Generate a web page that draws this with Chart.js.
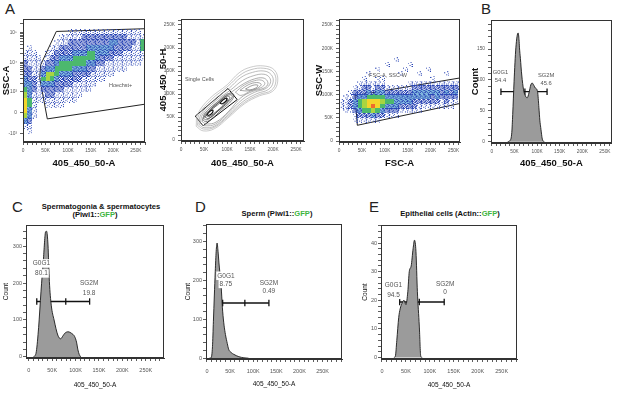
<!DOCTYPE html>
<html>
<head>
<meta charset="utf-8">
<title>Cell cycle FACS panels</title>
<script src="https://cdn.jsdelivr.net/npm/chart.js@4.4.1/dist/chart.umd.min.js"></script>
<style>
  body { margin: 0; background: #fff; }
  #page { position: relative; width: 617px; height: 395px; overflow: hidden; font-family: "Liberation Sans", Arial, sans-serif; }
  #page canvas { position: absolute; }
  .lt { position: absolute; font-size: 15px; line-height: 1; color: #222; }
  .ttl { position: absolute; transform: translate(-50%, -50%); font-size: 7.6px; font-weight: bold; color: #111; white-space: nowrap; line-height: 1; }
  .gfp { color: #3fb53f; }
</style>
</head>
<body>
<div id="page">
  <div class="lt" style="left:5px;top:1px">A</div>
  <div class="lt" style="left:481px;top:1px">B</div>
  <div class="lt" style="left:12px;top:199px">C</div>
  <div class="lt" style="left:195px;top:199px">D</div>
  <div class="lt" style="left:369px;top:199px">E</div>
  <div class="ttl" style="left:101px;top:207px">Spermatogonia &amp; spermatocytes</div>
  <div class="ttl" style="left:95px;top:215px">(Piwi1::<span class="gfp">GFP</span>)</div>
  <div class="ttl" style="left:277px;top:214px">Sperm (Piwi1::<span class="gfp">GFP</span>)</div>
  <div class="ttl" style="left:450px;top:214px">Epithelial cells (Actin::<span class="gfp">GFP</span>)</div>
  <canvas id="a1" width="150" height="162" style="left:0;top:10px"></canvas>
  <canvas id="a2" width="152" height="162" style="left:155px;top:10px"></canvas>
  <canvas id="a3" width="153" height="162" style="left:312px;top:10px"></canvas>
  <canvas id="b" width="147" height="162" style="left:470px;top:10px"></canvas>
  <canvas id="c" width="170" height="178" style="left:0;top:215px"></canvas>
  <canvas id="d" width="170" height="178" style="left:180px;top:214px"></canvas>
  <canvas id="e" width="170" height="178" style="left:355px;top:215px"></canvas>
</div>
<script>
const FONT = '"Liberation Sans", Arial, sans-serif';

// ---- A1: 405_450_50-A vs SSC-A (biexponential y), x in K ----
const A1_W = 415;
const biex = v => Math.asinh(v / A1_W);
const a1X = [5, 15, 25, 35, 45, 55, 65, 75, 85, 95, 105, 115, 125, 135, 145, 155, 165, 175, 185, 195, 205, 215, 225, 235, 245, 255, 265];
const a1U = [7.0, 6.6, 6.2, 5.8, 5.4, 5.0, 4.6, 4.2, 3.8, 3.4, 3.0, 2.6, 2.2, 1.8, 1.4, 1.0, 0.6, 0.2, -0.2, -0.6, -1.0, -1.4, -1.8];
// density level per cell, one string per x bin, top row first
const a1Cols = [
  '00000011222334566653100', '00000111122233344332110', '00000011111222111110000',
  '00000001111111110000000', '00000000123432110000000', '00000011235532211000000',
  '00000112235432211000000', '00001122344322111000000', '00011223443222111000000',
  '00011223443221110000000', '00112223443221110000000', '00112234432211110000000',
  '00112234432211100000000', '00122234432111000000000', '00122344322111000000000',
  '00122344321110000000000', '00122333211100000000000', '00122332211100000000000',
  '00122332111000000000000', '00123322111000000000000', '00123221110000000000000',
  '00122221110000000000000', '00122211110000000000000', '00112211100000000000000',
  '00112111100000000000000', '00111111100000000000000', '00014411000000000000000'
];
const a1Gate = [[73.7, 107000], [39.2, 8300], [37, 3040], [53.8, -197], [270, 299], [270, 132000], [73.7, 107000]];
const a1YMajor = [-1000, 0, 1000, 10000, 100000];
const a1YText = ['-10\u00b3', '0', '10\u00b3', '10\u2074', '10\u2075'];
const a1YMinor = [2000, 3000, 4000, 5000, 6000, 7000, 8000, 9000, 20000, 30000, 40000, 50000, 60000, 70000, 80000, 90000, 200000];

// ---- A2: single cells contour (405_450_50-A vs 405_450_50-H), K ----
const a2Loops = [
  [[33,30],[36,56],[62,90],[100,120],[126,146],[150,158],[180,161],[203,152],[210,128],[199,106],[170,96],[138,79],[102,48],[73,25],[48,20],[33,30]],
  [[36,32],[39,55],[66,88],[102,117],[128,141],[152,153],[180,156],[200,148],[206,128],[196,108],[170,99],[138,82],[102,51],[73,28],[49,24],[36,32]],
  [[39,34],[43,55],[70,86],[105,113],[130,136],[155,147],[180,150],[196,142],[200,126],[190,110],[165,101],[135,84],[102,54],[74,31],[50,27],[39,34]],
  [[42,36],[47,56],[75,85],[108,109],[133,129],[158,140],[180,143],[192,136],[194,124],[184,112],[160,104],[133,88],[103,59],[75,35],[52,31],[42,36]],
  [[46,40],[52,58],[80,84],[112,106],[137,123],[160,133],[178,135],[187,129],[188,120],[178,112],[156,106],[130,92],[104,63],[76,39],[55,35],[46,40]],
  [[118,104],[138,120],[160,129],[175,130],[182,123],[174,114],[152,107],[130,97],[118,104]],
  [[128,108],[146,120],[164,125],[174,121],[166,113],[146,107],[128,108]],
  [[140,111],[156,119],[167,119],[162,113],[148,109],[140,111]],
  [[47,44],[52,58],[76,80],[100,100],[114,100],[110,86],[88,66],[66,46],[54,40],[47,44]],
  [[49,47],[55,58],[78,79],[100,97],[111,97],[107,87],[86,68],[64,49],[55,44],[49,47]],
  [[52,50],[60,62],[80,80],[98,95],[106,93],[100,82],[80,63],[60,47],[52,50]],
  [[55,53],[63,63],[80,77],[97,91],[102,89],[96,80],[79,64],[61,51],[55,53]],
  [[56,55],[62,62],[69,65],[68,59],[61,54],[56,55]],
  [[84,80],[92,88],[99,91],[98,85],[90,79],[84,80]]
];
const a2LoopColors = ['#b4b4b4', '#aaaaaa', '#a0a0a0', '#969696', '#8a8a8a', '#909090', '#808080', '#707070',
  '#555', '#444', '#333', '#222', '#111', '#111'];
const a2Gate = [[31, 52], [102, 112], [122, 88], [48, 31], [31, 52]];

// ---- A3: FSC-A vs SSC-W, K ----
const a3X = [5, 15, 25, 35, 45, 55, 65, 75, 85, 95, 105, 115, 125, 135, 145, 155, 165, 175, 185, 195, 205, 215, 225, 235, 245, 255, 265];
const a3Y = [195, 185, 175, 165, 155, 145, 135, 125, 115, 105, 95, 85, 75, 65, 55, 45, 35];
const a3Cols = [
  '00000000000110000', '00000000001111000', '00000000011221000', '00000000122332110',
  '00000001123443210', '00000011223554210', '00000101234664210', '00000001124675310',
  '00001011234664210', '00000011234543200', '00010000123432100', '00000000123432100',
  '00100000123332100', '00000100123321000', '00001000123321000', '00010001123321000',
  '00000001233221000', '00000101233211000', '00000001233210000', '00001001233210000',
  '00000011232210000', '00000001233210000', '00000001222110000', '00000101232210000',
  '00000001222110000', '00000001232100000', '00000001222100000'
];
const a3Gate = [[35, 98], [264, 136], [264, 81], [40, 34], [35, 98]];

// pseudocolour levels: 1-3 are speckle tiles (3 on a pale cyan ground), 4+ solid
const densColors = [null, '#2a45b5', '#2a45b5', '#2a45b5', '#4cb86e', '#a9d541', '#f3d52b', '#ee6b2d'];
const densGround = [null, null, null, '#86bfe2', null, null, null, null];
const tileDots = {
  1: [[0, 1], [3, 0], [2, 3], [4, 4], [1, 5], [4, 2]],
  2: [[0, 1], [3, 0], [2, 3], [4, 4], [1, 5], [4, 2], [1, 2], [0, 4], [2, 0], [3, 5], [0, 3], [4, 1], [2, 5], [3, 2], [1, 0], [2, 1], [3, 3], [1, 4]],
  3: [[0, 1], [3, 0], [2, 3], [4, 4], [1, 5], [4, 2], [1, 2], [0, 4], [2, 0], [3, 5], [4, 1], [3, 2], [1, 4]]
};

// ---- B: DNA content histogram ----
const bX = [35, 40, 44, 46, 49, 53, 58, 60, 61, 63, 66, 70, 73, 78, 82, 86, 89, 93, 96, 101, 104, 106, 108, 112, 116];
const bCount = [0, 2, 15, 44, 97, 152, 176, 165, 152, 135, 108, 84, 76, 71, 79, 92, 95, 91, 87, 81, 55, 35, 23, 3, 0];
const bGateX = [20, 73, 122];
const bGateY = 81;

// ---- C: spermatogonia & spermatocytes ----
const cX = [10, 13, 16, 21, 26, 31, 36, 38, 41, 44, 48, 54, 62, 68, 73, 77, 84, 91, 98, 102, 105, 108, 111];
const cCount = [0, 3, 14, 80, 176, 260, 339, 340, 303, 204, 140, 100, 59, 49, 57, 64, 68, 64, 55, 40, 19, 6, 0];
const cGateX = [17, 79, 130];
const cGateY = 150;

// ---- D: sperm ----
const dX = [5, 9, 12, 14, 16, 18, 20, 22, 24, 26, 28, 30, 34, 37, 40, 44, 47, 52, 58, 69, 80, 90];
const dCount = [0, 1, 30, 95, 160, 223, 275, 296, 275, 245, 220, 198, 121, 85, 61, 38, 23, 15, 10, 4, 1, 0];
const dGateX = [34, 82, 134];
const dGateY = 142;

// ---- E: epithelial cells ----
const eX = [25, 28, 31, 35, 38, 42, 46, 50, 54, 57, 61, 65, 68, 71, 74, 78, 81, 84];
const eCount = [0, 0.5, 6, 14, 17, 19, 20, 18.5, 23, 30, 32, 38, 41, 37, 23, 11, 0.5, 0];
const eGateX = [37, 78, 130];
const eGateY = 19.4;

// ---------------- helpers ----------------
const kfmt = v => (v === 0 ? '0' : v + 'K');

function ticksOf(min, max, step) {
  const out = [];
  for (let v = Math.ceil(min / step) * step; v <= max + 1e-9; v += step) out.push({ value: Math.round(v * 1000) / 1000 });
  return out;
}

function axis(o) {
  return {
    type: 'linear', position: o.pos === 'y' ? 'left' : 'bottom', min: o.min, max: o.max,
    afterBuildTicks: s => { s.ticks = o.ticks ? o.ticks.map(v => ({ value: v })) : ticksOf(o.min, o.max, o.minor); },
    afterFit: s => { if (o.pos === 'y') s.width = o.fit; else s.height = o.fit; },
    grid: { drawOnChartArea: false, drawTicks: true, tickLength: 3, tickWidth: 0.8, tickColor: '#333' },
    border: { display: true, color: '#333', width: 1 },
    ticks: {
      autoSkip: false, maxRotation: 0, minRotation: 0, padding: o.pad, color: '#555',
      font: { size: o.fs, family: FONT },
      callback: o.label || (v => (Math.abs(v % o.major) < 1e-6 ? (o.fmt || kfmt)(v) : ''))
    },
    title: { display: true, text: o.title, color: '#111', font: o.tfont, padding: o.tpad }
  };
}

const framePlugin = {
  id: 'frame',
  afterDraw(chart) {
    const { ctx, chartArea: a } = chart;
    ctx.save();
    ctx.strokeStyle = '#333';
    ctx.lineWidth = 1;
    ctx.strokeRect(Math.round(a.left) + 0.5, Math.round(a.top) + 0.5, Math.round(a.width) - 1, Math.round(a.height) - 1);
    ctx.restore();
  }
};

const tagPlugin = {
  id: 'tags',
  afterDatasetsDraw(chart, args, opts) {
    const { ctx, scales } = chart;
    const size = opts.size || 6;
    (opts.items || []).forEach(t => {
      const px = scales.x.getPixelForValue(t.x), py = scales.y.getPixelForValue(t.y);
      ctx.save();
      ctx.font = size + 'px ' + FONT;
      ctx.textAlign = 'center';
      ctx.textBaseline = 'middle';
      if (opts.bg) {
        const w = ctx.measureText(t.t).width;
        ctx.fillStyle = '#fff';
        ctx.fillRect(px - w / 2 - 1, py - size / 2 - 1, w + 2, size + 2);
      }
      ctx.fillStyle = opts.color || '#555';
      ctx.fillText(t.t, px, py);
      ctx.restore();
    });
  }
};

function makeChart(id, datasets, xAxis, yAxis, pad, tags) {
  return new Chart(document.getElementById(id), {
    type: 'line',
    data: { datasets },
    options: {
      responsive: false, animation: false, events: [],
      layout: { padding: { top: pad[0], right: pad[1], bottom: 0, left: 0 } },
      plugins: { legend: { display: false }, tooltip: { enabled: false }, tags: tags || { items: [] } },
      scales: { x: xAxis, y: yAxis }
    },
    plugins: [framePlugin, tagPlugin]
  });
}

// a small canvas used as the point style of one density cell
function tile(level, w, h) {
  const c = document.createElement('canvas');
  c.width = w; c.height = h;
  const g = c.getContext('2d');
  if (densGround[level]) { g.fillStyle = densGround[level]; g.fillRect(0, 0, w, h); }
  g.fillStyle = densColors[level];
  if (tileDots[level]) tileDots[level].forEach(([x, y]) => g.fillRect(x, y, 1, 1));
  else g.fillRect(0, 0, w, h);
  return c;
}

function densitySets(xs, ys, cols, w, h) {
  const byLevel = [];
  cols.forEach((col, i) => col.split('').forEach((ch, j) => {
    const lv = +ch;
    if (lv) (byLevel[lv] = byLevel[lv] || []).push({ x: xs[i], y: ys[j] });
  }));
  return byLevel.map((pts, lv) => pts && {
    data: pts, showLine: false, pointStyle: tile(lv, w, h), pointRadius: 2, clip: 0
  }).filter(Boolean);
}

function polyLine(pts, color, width, mapY) {
  return {
    data: pts.map(([x, y]) => ({ x, y: mapY ? mapY(y) : y })),
    borderColor: color, borderWidth: width, pointRadius: 0, fill: false, tension: 0
  };
}

function histSets(xs, counts, gateX, gateY) {
  return [
    { data: xs.map((x, i) => ({ x, y: counts[i] })), fill: 'origin', backgroundColor: '#9b9b9b',
      borderColor: '#1a1a1a', borderWidth: 0.9, pointRadius: 0, cubicInterpolationMode: 'monotone' },
    { data: gateX.map(x => ({ x, y: gateY })), fill: false, borderColor: '#111', borderWidth: 1.3,
      pointStyle: 'line', pointRotation: 90, pointRadius: 3.2, pointBorderColor: '#111', pointBorderWidth: 1.3 }
  ];
}

const boldT = { size: 9.5, weight: 'bold', family: FONT };
const smallT = { size: 6.5, family: FONT };

// ---------------- A1 ----------------
const a1YTicks = a1YMajor.concat(a1YMinor).map(biex).sort((p, q) => p - q);
makeChart('a1',
  densitySets(a1X, a1U, a1Cols, 5, 6).concat([polyLine(a1Gate, '#222', 1, biex)]),
  axis({ pos: 'x', min: 0, max: 270, minor: 10, major: 50, fs: 4.8, pad: 3, fit: 30,
    title: '405_450_50-A', tfont: boldT, tpad: { bottom: 3 } }),
  axis({ pos: 'y', min: -2.23, max: 7.2, ticks: a1YTicks, fs: 4.8, pad: 3, fit: 23,
    label: v => { const i = a1YMajor.findIndex(m => Math.abs(biex(m) - v) < 1e-6); return i < 0 ? '' : a1YText[i]; },
    title: 'SSC-A', tfont: boldT, tpad: { top: 1 } }),
  [9, 4],
  { items: [{ x: 216, y: biex(1640), t: 'Hoechst+' }], size: 5.5, color: '#555' });

// ---------------- A2 ----------------
makeChart('a2',
  a2Loops.map((pts, i) => ({
    data: pts.map(([x, y]) => ({ x, y })), borderColor: a2LoopColors[i], borderWidth: i >= 12 ? 1.2 : 0.7,
    pointRadius: 0, tension: 0.4, fill: false
  })).concat([polyLine(a2Gate, '#111', 1)]),
  axis({ pos: 'x', min: 0, max: 267, minor: 10, major: 50, fs: 4.8, pad: 3, fit: 31,
    title: '405_450_50-A', tfont: boldT, tpad: { bottom: 3 } }),
  axis({ pos: 'y', min: -2, max: 263, minor: 10, major: 50, fs: 4.8, pad: 3, fit: 26,
    title: '405_450_50-H', tfont: boldT, tpad: { top: 2.3 } }),
  [9, 3],
  { items: [{ x: 40, y: 131, t: 'Single Cells' }], size: 5.5, color: '#555' });

// ---------------- A3 ----------------
makeChart('a3',
  densitySets(a3X, a3Y, a3Cols, 5, 5).concat([polyLine(a3Gate, '#222', 1)]),
  axis({ pos: 'x', min: 0, max: 264, minor: 10, major: 50, fs: 4.8, pad: 3, fit: 30,
    title: 'FSC-A', tfont: boldT, tpad: { bottom: 3 } }),
  axis({ pos: 'y', min: -2, max: 263, minor: 10, major: 50, fs: 4.8, pad: 3, fit: 27,
    title: 'SSC-W', tfont: boldT, tpad: { top: 1.6 } }),
  [9, 3],
  { items: [{ x: 107, y: 141, t: 'FSC-A, SSC-W' }], size: 5.5, color: '#555' });

// ---------------- B ----------------
makeChart('b',
  histSets(bX, bCount, bGateX, bGateY),
  axis({ pos: 'x', min: -2, max: 265, minor: 10, major: 50, fs: 4.8, pad: 3, fit: 29,
    title: '405_450_50-A', tfont: boldT, tpad: { bottom: 3.3 } }),
  axis({ pos: 'y', min: -2, max: 197, minor: 10, major: 50, fs: 4.8, pad: 3, fit: 21, fmt: String,
    title: 'Count', tfont: boldT, tpad: { top: 0 } }),
  [10, 3],
  { items: [{ x: 19, y: 112, t: 'G0G1' }, { x: 19, y: 99, t: '54.4' }, { x: 120, y: 108, t: 'SG2M' }, { x: 120, y: 95, t: '45.6' }],
    size: 5.8, color: '#555' });

// ---------------- C ----------------
makeChart('c',
  histSets(cX, cCount, cGateX, cGateY),
  axis({ pos: 'x', min: -6, max: 289, minor: 10, major: 50, fs: 5.5, pad: 6, fit: 35,
    title: '405_450_50-A', tfont: smallT, tpad: { bottom: 3.4 } }),
  axis({ pos: 'y', min: -3, max: 357, minor: 20, major: 100, fs: 5.5, pad: 1, fit: 26, fmt: String,
    title: 'Count', tfont: smallT, tpad: { top: 2.8 } }),
  [10, 6],
  { items: [{ x: 27, y: 253, t: 'G0G1' }, { x: 27, y: 226, t: '80.1' }, { x: 129, y: 199, t: 'SG2M' }, { x: 129, y: 172, t: '19.8' }],
    size: 6.5, color: '#555', bg: true });

// ---------------- D ----------------
makeChart('d',
  histSets(dX, dCount, dGateX, dGateY),
  axis({ pos: 'x', min: -2, max: 292, minor: 10, major: 50, fs: 5.5, pad: 6, fit: 33,
    title: '405_450_50-A', tfont: smallT, tpad: { bottom: 3.5 } }),
  axis({ pos: 'y', min: -2, max: 345, minor: 20, major: 100, fs: 5.5, pad: 1, fit: 26, fmt: String,
    title: 'Count', tfont: smallT, tpad: { top: 4 } }),
  [10, 8],
  { items: [{ x: 41, y: 212, t: 'G0G1' }, { x: 41, y: 191, t: '8.75' }, { x: 134, y: 194, t: 'SG2M' }, { x: 134, y: 171, t: '0.49' }],
    size: 6.5, color: '#555', bg: true });

// ---------------- E ----------------
makeChart('e',
  histSets(eX, eCount, eGateX, eGateY),
  axis({ pos: 'x', min: -2, max: 282, minor: 10, major: 50, fs: 5.5, pad: 6, fit: 34,
    title: '405_450_50-A', tfont: smallT, tpad: { bottom: 3.5 } }),
  axis({ pos: 'y', min: -0.5, max: 46.3, minor: 2, major: 10, fs: 5.5, pad: 1, fit: 26, fmt: String,
    title: 'Count', tfont: smallT, tpad: { top: 6 } }),
  [10, 8],
  { items: [{ x: 24, y: 25.1, t: 'G0G1' }, { x: 24, y: 21.9, t: '94.5' }, { x: 132, y: 25.6, t: 'SG2M' }, { x: 132, y: 22.8, t: '0' }],
    size: 6.5, color: '#555', bg: true });
</script>
</body>
</html>
